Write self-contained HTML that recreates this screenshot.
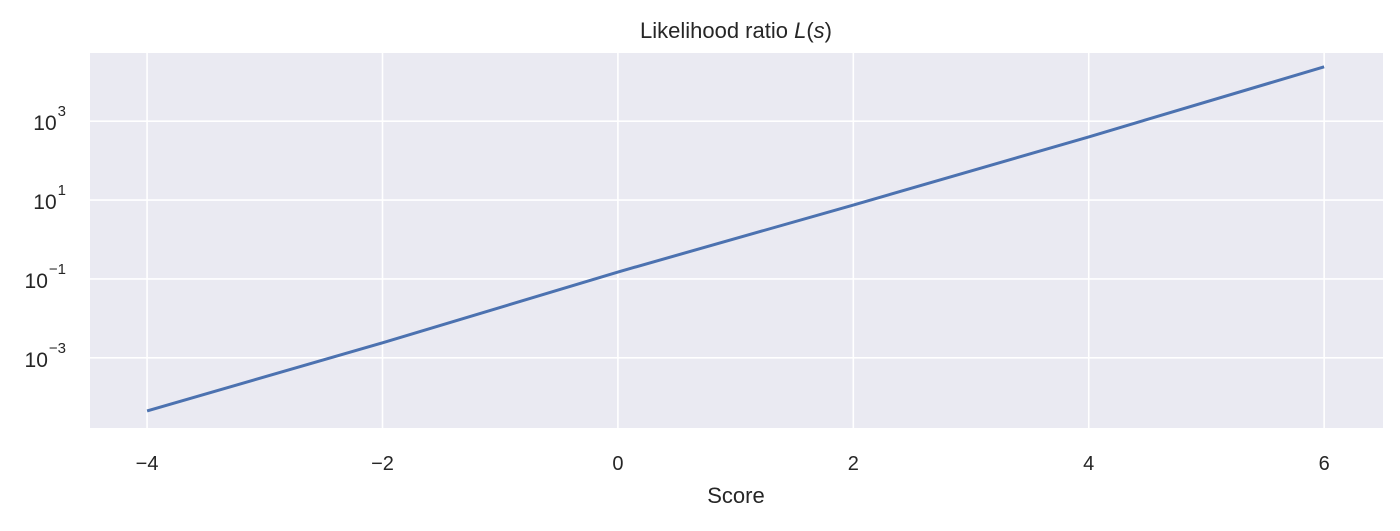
<!DOCTYPE html>
<html><head><meta charset="utf-8"><style>
body{margin:0;background:#fff;width:1400px;height:526px;overflow:hidden}
svg{font-family:"Liberation Sans",sans-serif}
</style></head><body>
<svg id="chart" width="1400" height="526">
<rect x="90" y="53" width="1293" height="375" fill="#eaeaf2"/>
<g id="grid"></g>
<g id="series"></g>
<g id="ticks"></g>
<text x="736" y="38" text-anchor="middle" font-size="22" fill="#262626">Likelihood ratio <tspan font-style="italic">L</tspan>(<tspan font-style="italic">s</tspan>)</text>
<text x="736" y="503" text-anchor="middle" font-size="22" fill="#262626">Score</text>
</svg>
<script>
const scores=[-4,-2,0,2,4,6];
const ratios=[4.5e-5,0.0024,0.15,7.5,400,24000];
const xTicks=[-4,-2,0,2,4,6];
const yTickExps=[3,1,-1,-3];
const NS="http://www.w3.org/2000/svg";
const L=90,R=1383,T=53,B=428;
const xMin=-4.485,xMax=6.5;
const yMin=-4.78,yMax=4.73;
function xs(v){return L+(v-xMin)/(xMax-xMin)*(R-L);}
function ys(v){return B-(Math.log10(v)-yMin)/(yMax-yMin)*(B-T);}
function mk(tag,attrs,parent){const e=document.createElementNS(NS,tag);for(const k in attrs)e.setAttribute(k,attrs[k]);document.getElementById(parent).appendChild(e);return e;}
xTicks.forEach(t=>{
 const g=mk('line',{x1:xs(t),x2:xs(t),y1:T,y2:B,stroke:'#fff','stroke-width':1.6},'grid');
 
 
 const tx=mk('text',{x:xs(t),y:470,'text-anchor':'middle','font-size':20,fill:'#262626'},'ticks');
 tx.textContent=t<0?'\u2212'+Math.abs(t):String(t);
 
 
});
yTickExps.forEach(e=>{
 const y=ys(Math.pow(10,e));
 const g=mk('line',{x1:L,x2:R,y1:y,y2:y,stroke:'#fff','stroke-width':1.6},'grid');
 
 
 const tx=mk('text',{x:66,y:y+9,'text-anchor':'end','font-size':21,fill:'#262626'},'ticks');
 
 
 const base=document.createElementNS(NS,'tspan');
 base.textContent='10';
 tx.appendChild(base);
 const sp=document.createElementNS(NS,'tspan');
 sp.setAttribute('font-size','15');
 sp.setAttribute('dy','-14');
 sp.setAttribute('dx','1');
 sp.textContent=e<0?'\u2212'+Math.abs(e):String(e);
 tx.appendChild(sp);
});
const pts=scores.map((s,i)=>xs(s)+','+ys(ratios[i])).join(' ');
const line=mk('polyline',{points:pts,fill:'none',stroke:'#4c72b0','stroke-width':3},'series');


</script>
</body></html>
